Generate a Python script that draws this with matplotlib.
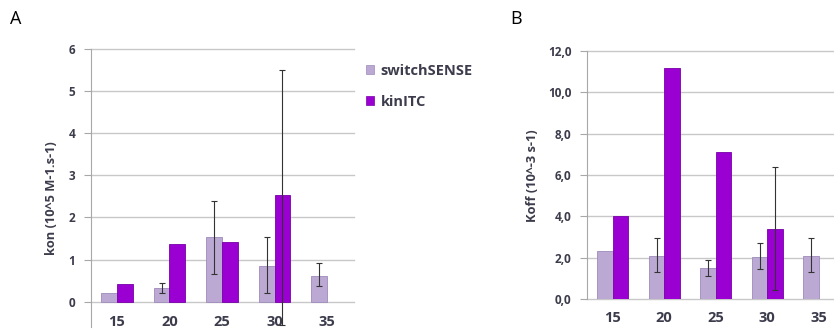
import numpy as np
import matplotlib
matplotlib.use("Agg")
import matplotlib.pyplot as plt
from matplotlib.patches import Patch

plt.rcParams['font.family'] = ['Open Sans', 'DejaVu Sans']

categories = ['15', '20', '25', '30', '35']
series_names = ['switchSENSE', 'kinITC']

kon_switch = [0.20, 0.33, 1.53, 0.86, 0.62]
kon_switch_err_lo = [0.0, 0.13, 0.88, 0.65, 0.25]
kon_switch_err_hi = [0.0, 0.11, 0.87, 0.67, 0.29]
kon_kin = [0.43, 1.36, 1.42, 2.53, np.nan]
kon_kin_err_lo = [0.0, 0.0, 0.0, 3.08, 0.0]
kon_kin_err_hi = [0.0, 0.0, 0.0, 2.97, 0.0]

koff_switch = [2.30, 2.09, 1.50, 2.01, 2.09]
koff_switch_err_lo = [0.0, 0.79, 0.37, 0.56, 0.76]
koff_switch_err_hi = [0.0, 0.85, 0.37, 0.72, 0.85]
koff_kin = [4.02, 11.18, 7.11, 3.38, np.nan]
koff_kin_err_lo = [0.0, 0.0, 0.0, 2.93, 0.0]
koff_kin_err_hi = [0.0, 0.0, 0.0, 3.02, 0.0]

kon_yticks = [0, 1, 2, 3, 4, 5, 6]
kon_yticklabels = ['0', '1', '2', '3', '4', '5', '6']
koff_yticks = [0, 2, 4, 6, 8, 10, 12]
koff_yticklabels = ['0,0', '2,0', '4,0', '6,0', '8,0', '10,0', '12,0']

C_SW = '#bba9d3'
C_SW_E = '#9d8bbb'
C_KIN = '#9a00d2'
C_KIN_E = '#7800a8'
TXT = '#3c3c4c'
GRID = '#c8c8c8'
AX = '#a8a8a8'

fig = plt.figure(figsize=(8.34, 3.36), dpi=100)
W, H = 834.0, 336.0

def make_ax(left, right, top, bottom):
    return fig.add_axes([left / W, 1 - bottom / H, (right - left) / W, (bottom - top) / H])

axA = make_ax(90.5, 353.5, 49, 327)
axB = make_ax(587, 844.5, 51, 299)

def draw(ax, sw, swlo, swhi, kin, kinlo, kinhi, ymin, ymax, yticks, ytl):
    x = np.arange(len(categories))
    w = 0.3
    ax.bar(x - w / 2, sw, w, color=C_SW, edgecolor=C_SW_E, linewidth=0.6, zorder=3)
    ax.bar(x + w / 2, kin, w, color=C_KIN, edgecolor=C_KIN_E, linewidth=0.6, zorder=3)
    for xs, vals, lo, hi in [(x - w / 2, sw, swlo, swhi), (x + w / 2, kin, kinlo, kinhi)]:
        vals = np.array(vals, dtype=float)
        lo = np.array(lo); hi = np.array(hi)
        m = (lo > 0) | (hi > 0)
        if m.any():
            ax.errorbar(xs[m], vals[m], yerr=[lo[m], hi[m]], fmt='none', ecolor='#333333',
                        elinewidth=0.8, capsize=2.5, capthick=0.8, zorder=4)
    ax.set_xlim(-0.5, len(categories) - 0.5)
    ax.set_ylim(ymin, ymax)
    ax.set_yticks(yticks)
    ax.set_yticklabels(ytl)
    ax.yaxis.grid(True, color=GRID, linewidth=1.0, zorder=0)
    for g in ax.get_ygridlines():
        g.set_clip_on(False)
    ax.set_axisbelow(True)
    for s in ['top', 'right', 'bottom']:
        ax.spines[s].set_visible(False)
    ax.spines['left'].set_color(AX)
    ax.tick_params(axis='y', length=5, color=AX, pad=6, labelsize=8.5, labelcolor=TXT)
    ax.set_xticks(x)
    ax.set_xticklabels(categories, fontsize=10.5, color=TXT, fontweight='bold')
    for t in ax.get_yticklabels():
        t.set_fontweight('bold')
    ax.patch.set_alpha(0)

draw(axA, kon_switch, kon_switch_err_lo, kon_switch_err_hi, kon_kin, kon_kin_err_lo, kon_kin_err_hi,
     -0.6, 6, kon_yticks, kon_yticklabels)
axA.tick_params(axis='x', length=0, pad=-8.5)
axA.set_ylabel('kon (10^5 M-1.s-1)', fontsize=9.3, fontweight='bold', color=TXT)
axA.yaxis.set_label_coords(-0.124, 0.464)

draw(axB, koff_switch, koff_switch_err_lo, koff_switch_err_hi, koff_kin, koff_kin_err_lo, koff_kin_err_hi,
     0, 12, koff_yticks, koff_yticklabels)
axB.tick_params(axis='x', length=0, pad=9)
axB.set_ylabel('Koff (10^-3 s-1)', fontsize=9.3, fontweight='bold', color=TXT)
axB.yaxis.set_label_coords(-0.186, 0.496)

handles = [Patch(facecolor=C_SW, edgecolor=C_SW_E, linewidth=0.5),
           Patch(facecolor=C_KIN, edgecolor=C_KIN_E, linewidth=0.5)]
fig.legend(handles, series_names, loc='upper left', bbox_to_anchor=(366 / W, 1 - 64 / H),
           frameon=False, handlelength=0.55, handleheight=0.55, handletextpad=0.45,
           labelspacing=1.15, prop={'size': 10.5, 'weight': 'bold'}, labelcolor=TXT,
           borderaxespad=0, borderpad=0)

fig.text(10 / W, 1 - 19 / H, 'A', fontsize=13, va='center', ha='left', color='black')
fig.text(510 / W, 1 - 19 / H, 'B', fontsize=13, va='center', ha='left', color='black')

fig.savefig('out.png', dpi=100)
